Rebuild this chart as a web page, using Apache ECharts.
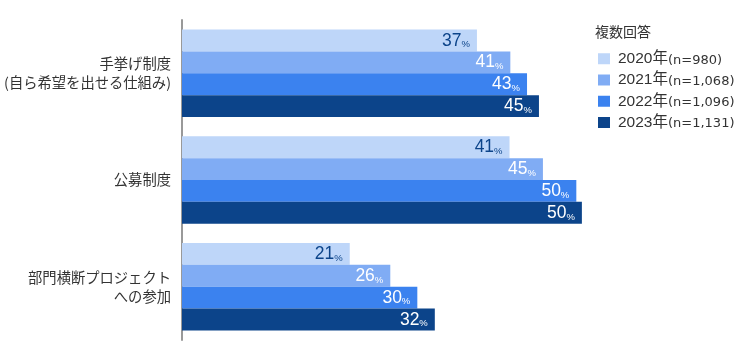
<!DOCTYPE html>
<html>
<head>
<meta charset="utf-8">
<script src="https://cdn.jsdelivr.net/npm/echarts@6/dist/echarts.min.js"></script>
<style>
html,body{margin:0;padding:0;background:#fff;}
#c{width:742px;height:360px;}
</style>
</head>
<body>
<div id="c"></div>
<script>
var categories = ['手挙げ制度\n(自ら希望を出せる仕組み)', '公募制度', '部門横断プロジェクト\nへの参加'];
var seriesNames = ['2020年', '2021年', '2022年', '2023年'];
var sampleSizes = ['(n=980)', '(n=1,068)', '(n=1,096)', '(n=1,131)'];
var values2020 = [37.1, 41.2, 21.1];
var values2021 = [41.3, 45.4, 26.2];
var values2022 = [43.4, 49.6, 29.6];
var values2023 = [44.9, 50.3, 31.8];
var legendTitle = '複数回答';

var allValues = [values2020, values2021, values2022, values2023];
var colors = ['#bed6f9', '#80acf4', '#3b82ef', '#0c448a'];
var labelColors = ['#0c448a', '#ffffff', '#ffffff', '#ffffff'];
var numFont = "'Liberation Sans', Arial, 'Noto Sans CJK JP', sans-serif";
var wideFont = "'DejaVu Sans', 'Liberation Sans', sans-serif";
var jpFont = "'Noto Sans CJK JP', 'Liberation Sans', sans-serif";

var chart = echarts.init(document.getElementById('c'), null, {renderer: 'canvas'});

var series = seriesNames.map(function (name, i) {
  return {
    name: name,
    type: 'bar',
    data: allValues[i],
    barGap: '0%',
    barCategoryGap: '18%',
    itemStyle: {color: colors[i]},
    label: {
      show: true,
      position: 'insideRight',
      distance: 7,
      formatter: function (p) { return '{n|' + Math.round(p.value) + '}{p|%}'; },
      rich: {
        n: {fontSize: 17.5, color: labelColors[i], fontFamily: numFont, verticalAlign: 'bottom', lineHeight: 18},
        p: {fontSize: 9.5, color: labelColors[i], fontFamily: numFont, verticalAlign: 'bottom', lineHeight: 15}
      }
    },
    emphasis: {disabled: true},
    animation: false
  };
});

chart.setOption({
  animation: false,
  title: {
    text: legendTitle,
    left: 595,
    top: 25,
    padding: 0,
    textStyle: {fontSize: 14, fontWeight: 'normal', color: '#333', fontFamily: jpFont}
  },
  legend: {
    orient: 'vertical',
    left: 598,
    top: 51,
    padding: 0,
    icon: 'rect',
    itemWidth: 12,
    itemHeight: 11,
    itemGap: 5.5,
    selectedMode: false,
    data: seriesNames,
    formatter: function (name) {
      var i = seriesNames.indexOf(name);
      return '{y|' + name + '}{n|' + sampleSizes[i] + '}';
    },
    textStyle: {
      padding: [0, 0, 0, 3],
      rich: {
        y: {fontSize: 15.5, color: '#333', fontFamily: numFont, lineHeight: 16},
        n: {fontSize: 13, color: '#333', fontFamily: wideFont, lineHeight: 16, verticalAlign: 'bottom'}
      }
    }
  },
  grid: {left: 182, right: 83, top: 20, bottom: 20, containLabel: false, outerBoundsMode: 'none'},
  xAxis: {
    type: 'value',
    min: 0,
    max: 60,
    show: false
  },
  yAxis: {
    type: 'category',
    data: categories,
    inverse: true,
    axisLine: {show: true, lineStyle: {color: '#999', width: 2}},
    axisTick: {show: false},
    axisLabel: {
      margin: 11,
      fontSize: 14.3,
      lineHeight: 19,
      color: '#333',
      fontFamily: jpFont,
      align: 'right'
    },
    splitLine: {show: false}
  },
  series: series
});
</script>
</body>
</html>
